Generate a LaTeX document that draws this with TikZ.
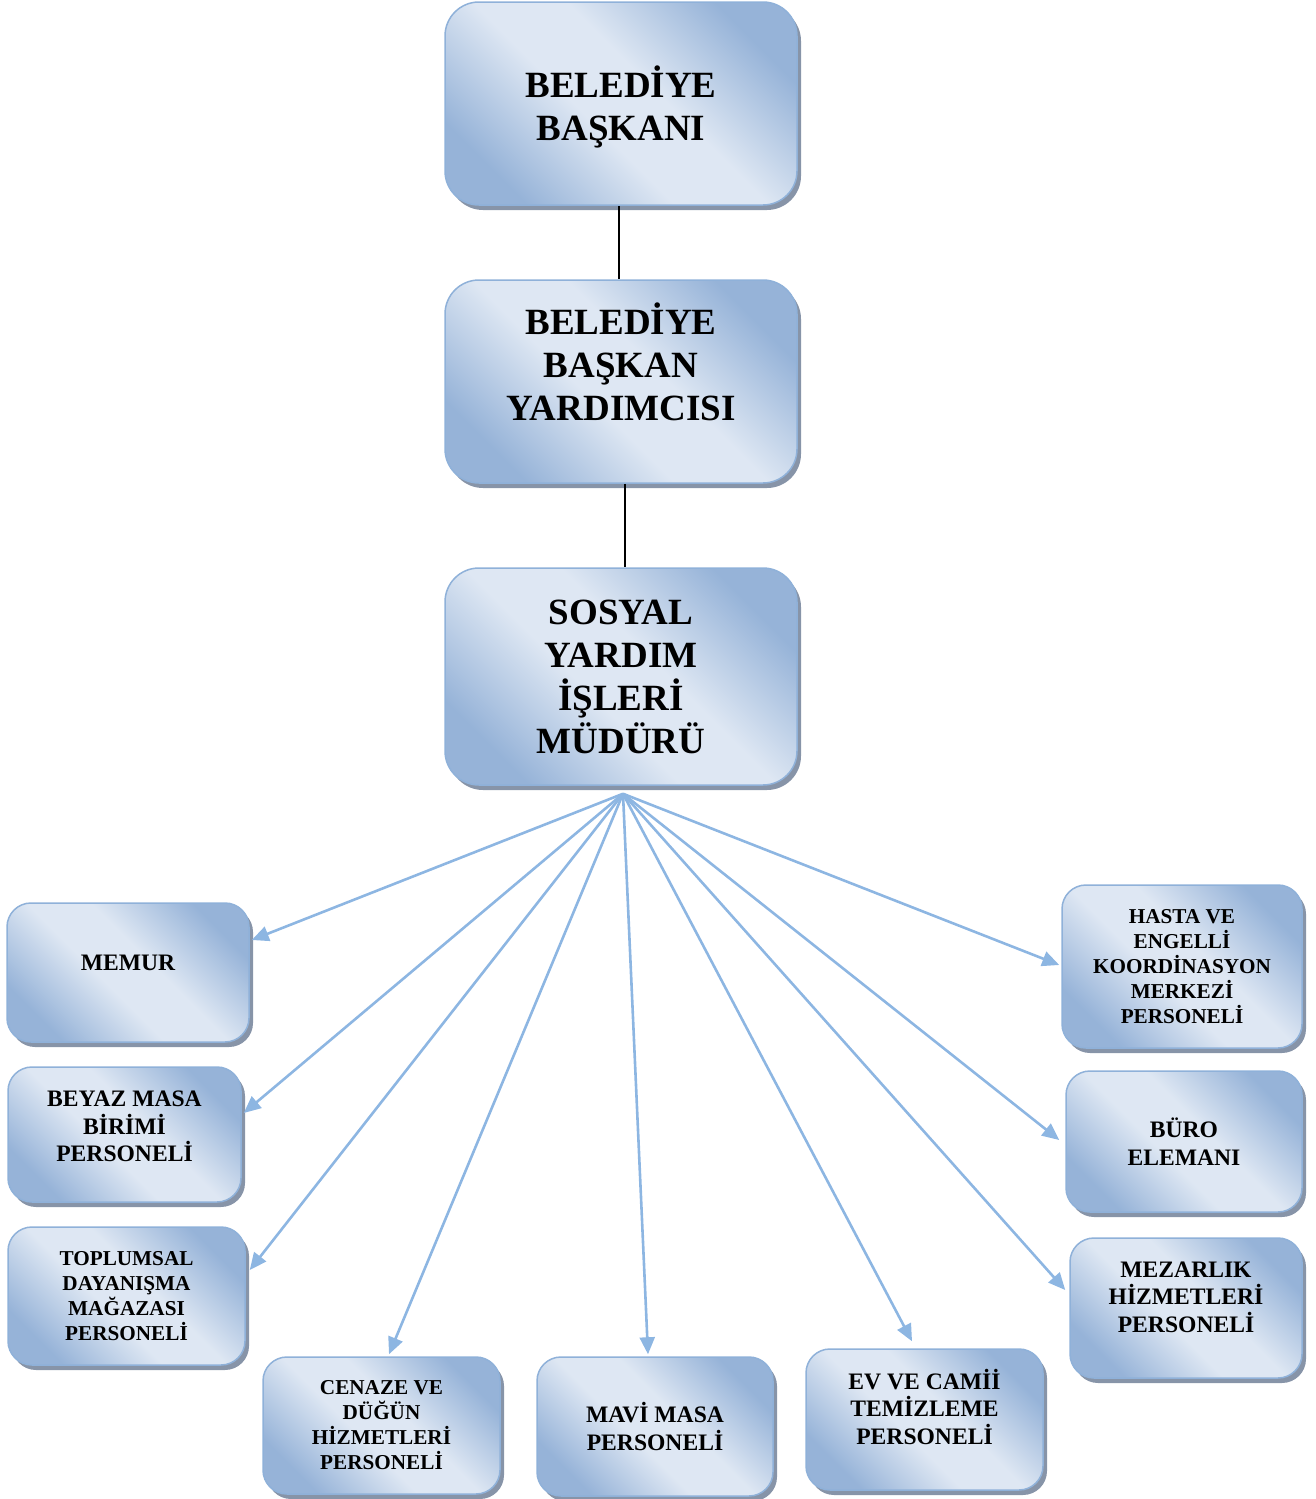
\documentclass[tikz,border=0pt]{standalone}
\usepackage{fontspec}
\setmainfont{Liberation Serif}
\usetikzlibrary{arrows.meta,shadows,calc}
\definecolor{lt}{RGB}{222,231,243}
\definecolor{dk}{RGB}{150,179,216}
\definecolor{bordc}{RGB}{143,177,217}
\definecolor{shc}{RGB}{135,148,168}
\definecolor{arrc}{RGB}{141,182,226}
\pgfdeclareverticalshading{boxsh}{100bp}{color(0bp)=(dk); color(25bp)=(dk); color(44bp)=(lt); color(56bp)=(lt); color(75bp)=(dk); color(100bp)=(dk)}
\begin{document}
\begin{tikzpicture}[x=1pt,y=-1pt,
  box/.style={draw=bordc, line width=1.5pt, inner sep=0pt, align=center,
    shading=boxsh, shading angle=135,
    drop shadow={shadow xshift=4pt, shadow yshift=-5pt, fill=shc, opacity=1}},
  big/.style={box, rounded corners=34pt, minimum width=352pt,
    font=\bfseries\fontsize{37}{43}\selectfont},
  sma/.style={box, rounded corners=24pt,
    font=\bfseries\fontsize{23.6}{27.5}\selectfont},
  smb/.style={box, rounded corners=24pt,
    font=\bfseries\fontsize{21.2}{25}\selectfont},
  conn/.style={black, line width=2pt},
  arr/.style={arrc, line width=2.6pt, -{Triangle[length=17pt,width=15pt]}}
]
\useasboundingbox (0,0) rectangle (1315,1499);

\node[big, minimum height=203pt, text depth=0pt] (bb) at (621,103.5) {BELEDİYE\\BAŞKANI};
\node[big, minimum height=203pt, text depth=40pt] (bby) at (621,381.5) {BELEDİYE\\BAŞKAN\\YARDIMCISI};
\node[big, minimum height=217pt] (sy) at (621,676.5) {SOSYAL\\YARDIM\\İŞLERİ\\MÜDÜRÜ};

\draw[conn] ([xshift=-2pt]bb.south) -- ([xshift=-2pt]bby.north);
\draw[conn] ([xshift=4pt]bby.south) -- ([xshift=4pt]sy.north);

\node[sma, minimum width=242pt, minimum height=139pt, text depth=20pt] (memur) at (128,972.5) {MEMUR};
\node[sma, minimum width=233pt, minimum height=135pt, text depth=16pt] (beyaz) at (124.5,1134.5) {BEYAZ MASA\\BİRİMİ\\PERSONELİ};
\node[smb, minimum width=237pt, minimum height=138pt] (toplum) at (126.5,1296) {TOPLUMSAL\\DAYANIŞMA\\MAĞAZASI\\PERSONELİ};
\node[smb, minimum width=237pt, minimum height=137pt] (cenaze) at (381.5,1425.5) {CENAZE VE\\DÜĞÜN\\HİZMETLERİ\\PERSONELİ};
\node[sma, minimum width=236pt, minimum height=139pt] (mavi) at (655,1426.5) {MAVİ MASA\\PERSONELİ};
\node[sma, minimum width=237pt, minimum height=141pt, text depth=26pt] (ev) at (924.5,1419.5) {EV VE CAMİİ\\TEMİZLEME\\PERSONELİ};
\node[smb, minimum width=240pt, minimum height=163pt] (hasta) at (1182,966.5) {HASTA VE\\ENGELLİ\\KOORDİNASYON\\MERKEZİ\\PERSONELİ};
\node[sma, minimum width=236pt, minimum height=141pt] (buro) at (1184,1141.5) {BÜRO\\ELEMANI};
\node[sma, minimum width=232pt, minimum height=140pt, text depth=22pt] (mezar) at (1186,1308) {MEZARLIK\\HİZMETLERİ\\PERSONELİ};

\coordinate (hub) at ([xshift=2pt,yshift=-8pt]sy.south);

\draw[arr] (hub) -- ([xshift=2pt,yshift=32.5pt]memur.east);
\draw[arr] (hub) -- ([xshift=2pt,yshift=21.5pt]beyaz.east);
\draw[arr] (hub) -- ([xshift=4pt,yshift=26pt]toplum.east);
\draw[arr] (hub) -- ([xshift=7.5pt,yshift=2pt]cenaze.north);
\draw[arr] (hub) -- ([xshift=-7pt,yshift=2pt]mavi.north);
\draw[arr] (hub) -- ([xshift=-12.5pt,yshift=7pt]ev.north);
\draw[arr] (hub) -- ([xshift=-2pt,yshift=1.5pt]hasta.west);
\draw[arr] (hub) -- ([xshift=-6pt,yshift=1.5pt]buro.west);
\draw[arr] (hub) -- ([xshift=-4pt,yshift=18pt]mezar.west);
\end{tikzpicture}
\end{document}
